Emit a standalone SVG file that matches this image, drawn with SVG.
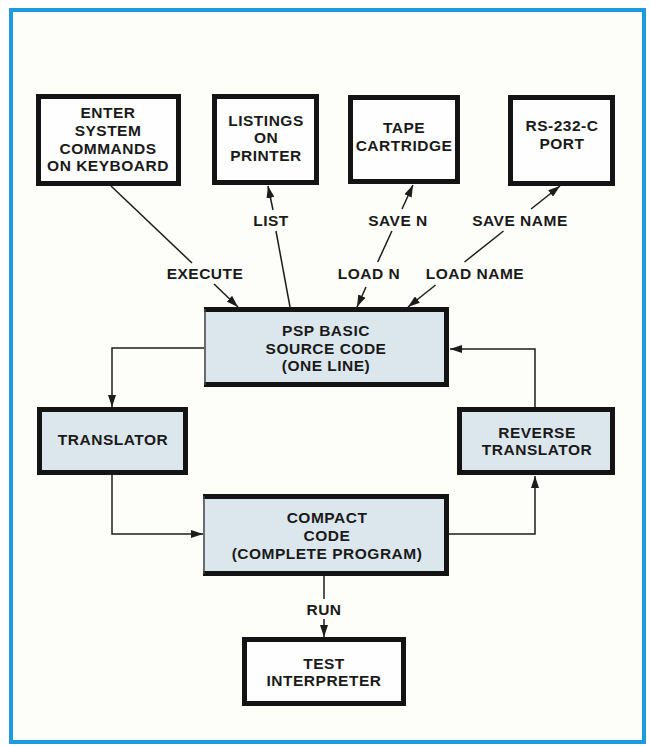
<svg xmlns="http://www.w3.org/2000/svg" width="650" height="746" viewBox="0 0 650 746">
  <style>
    .frame { fill: #fdfdf9; stroke: #1e9ade; stroke-width: 4; }
    .box { fill: #fefefe; stroke: #141414; stroke-width: 5; }
    .pbox { fill: #dce7ed; stroke: #141414; stroke-width: 5; }
    .fill { fill: #dce7ed; stroke: none; }
    .edge { fill: none; stroke: #141414; stroke-width: 5; }
    .thin { fill: none; stroke: #444; stroke-width: 1.5; }
    .conn { fill: none; stroke: #1c1c1c; stroke-width: 1.5; }
    text { font-family: "Liberation Sans", Arial, sans-serif; font-size: 15.5px; font-weight: bold; letter-spacing: 0.5px; fill: #1a1a1a; text-anchor: middle; }
  </style>
  <defs>
    <marker id="arrow" markerWidth="12" markerHeight="8" refX="12" refY="4" orient="auto" markerUnits="userSpaceOnUse">
      <path d="M0,0 L12,4 L0,8 z" fill="#1c1c1c"/>
    </marker>
  </defs>

  <rect width="650" height="746" fill="#ffffff"/>
  <rect class="frame" x="11" y="10" width="633" height="732"/>

  <!-- connectors -->
  <g id="connectors">
    <!-- keyboard to source code -->
    <line class="conn" x1="111" y1="186" x2="192" y2="263"/>
    <line class="conn" x1="214" y1="284" x2="238" y2="307" marker-end="url(#arrow)"/>
    <!-- source code to printer -->
    <line class="conn" x1="290" y1="307" x2="276" y2="231"/>
    <line class="conn" x1="273" y1="210" x2="268" y2="186" marker-end="url(#arrow)"/>
    <!-- tape cartridge, both ways -->
    <line class="conn" x1="366" y1="287" x2="357" y2="307" marker-end="url(#arrow)"/>
    <line class="conn" x1="377.7" y1="262" x2="391.9" y2="231"/>
    <line class="conn" x1="402" y1="209" x2="413" y2="185" marker-end="url(#arrow)"/>
    <!-- serial port, both ways -->
    <line class="conn" x1="435.6" y1="285" x2="408" y2="307" marker-end="url(#arrow)"/>
    <line class="conn" x1="464.5" y1="262" x2="503.5" y2="231"/>
    <line class="conn" x1="531.1" y1="209" x2="560" y2="186" marker-end="url(#arrow)"/>
    <!-- translation loop -->
    <path class="conn" d="M204,348 H112 V407" marker-end="url(#arrow)"/>
    <path class="conn" d="M112,475 V534 H203" marker-end="url(#arrow)"/>
    <path class="conn" d="M449,534 H535 V476" marker-end="url(#arrow)"/>
    <path class="conn" d="M535,407 V349 H450" marker-end="url(#arrow)"/>
    <!-- run -->
    <line class="conn" x1="324" y1="576" x2="324" y2="599"/>
    <line class="conn" x1="324" y1="619" x2="324" y2="637" marker-end="url(#arrow)"/>
    <text x="205" y="278.5">EXECUTE</text>
    <text x="271" y="225.5">LIST</text>
    <text x="398" y="225.5">SAVE N</text>
    <text x="369" y="278.5">LOAD N</text>
    <text x="520" y="225.5">SAVE NAME</text>
    <text x="475" y="278.5">LOAD NAME</text>
    <text x="324" y="614.5">RUN</text>
  </g>

  <g id="keyboard">
    <rect class="box" x="38.5" y="96.5" width="140" height="87"/>
    <text x="108" y="118">ENTER</text>
    <text x="108" y="136">SYSTEM</text>
    <text x="108" y="153.5">COMMANDS</text>
    <text x="108" y="171">ON KEYBOARD</text>
  </g>

  <g id="printer">
    <rect class="box" x="214.5" y="96.5" width="102" height="86"/>
    <text x="266" y="125.5">LISTINGS</text>
    <text x="266" y="143">ON</text>
    <text x="266" y="160.5">PRINTER</text>
  </g>

  <g id="tape">
    <rect class="box" x="350.5" y="97.5" width="107" height="84"/>
    <text x="404" y="133">TAPE</text>
    <text x="404" y="151">CARTRIDGE</text>
  </g>

  <g id="port">
    <rect class="box" x="510.5" y="97.5" width="102" height="86"/>
    <text x="562" y="131">RS-232-C</text>
    <text x="562" y="149">PORT</text>
  </g>

  <g id="source">
    <rect class="fill" x="204" y="307" width="245" height="80"/>
    <path class="edge" d="M204,309.5 H446.5 V384.5 H204"/>
    <line class="thin" x1="205" y1="309" x2="205" y2="385"/>
    <text x="326" y="335.5">PSP BASIC</text>
    <text x="326" y="353.5">SOURCE CODE</text>
    <text x="326" y="370.5">(ONE LINE)</text>
  </g>

  <g id="translator">
    <rect class="pbox" x="39.5" y="409.5" width="146" height="63"/>
    <text x="113" y="444.5">TRANSLATOR</text>
  </g>

  <g id="reverse">
    <rect class="pbox" x="459.5" y="409.5" width="153" height="63"/>
    <text x="537" y="437.5">REVERSE</text>
    <text x="537" y="454.5">TRANSLATOR</text>
  </g>

  <g id="compact">
    <rect class="fill" x="203" y="494" width="246" height="82"/>
    <path class="edge" d="M203,496.5 H446.5 V573.5 H203"/>
    <line class="thin" x1="204" y1="496" x2="204" y2="574"/>
    <text x="327" y="522.5">COMPACT</text>
    <text x="327" y="540.5">CODE</text>
    <text x="327" y="558.5">(COMPLETE PROGRAM)</text>
  </g>

  <g id="interpreter">
    <rect class="box" x="244.5" y="639.5" width="159" height="64"/>
    <text x="324" y="668.5">TEST</text>
    <text x="324" y="685.5">INTERPRETER</text>
  </g>
</svg>
